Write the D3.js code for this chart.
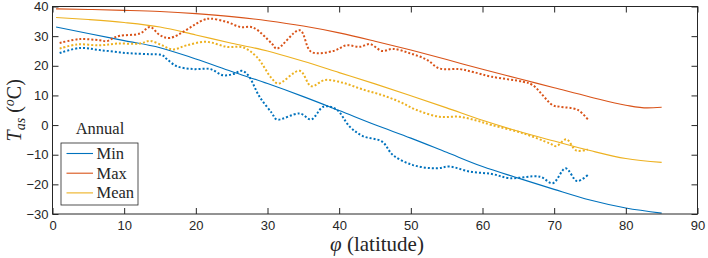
<!DOCTYPE html>
<html>
<head>
<meta charset="utf-8">
<script src="https://cdn.jsdelivr.net/npm/d3@7"></script>
<style>
  body { margin: 0; background: #fff; }
  svg { display: block; }
  .tick text { font-family: "Liberation Sans", Arial, sans-serif; font-size: 13px; fill: #262626; }
  .serif { font-family: "Liberation Serif", "Times New Roman", serif; fill: #262626; }
</style>
</head>
<body>
<div id="chart"></div>
<script>
// ---- Data ----
const xTicks = [0, 10, 20, 30, 40, 50, 60, 70, 80, 90];
const yTicks = [-30, -20, -10, 0, 10, 20, 30, 40];

// smooth curves: [latitude, temperature]
const minSmooth = [[0.5, 33.1], [5, 30.9], [10, 28.5], [15, 26.1], [20, 22.3], [25, 18.1], [30, 14.0], [35, 9.6],
  [40, 4.9], [45, 0.1], [50, -4.4], [55, -9.2], [60, -14.0], [65, -17.9], [70, -21.7], [75, -25.3], [80, -28.0], [85, -29.7]];
const maxSmooth = [[0.5, 39.2], [5, 39.0], [10, 38.7], [15, 38.3], [20, 37.6], [25, 36.6], [30, 35.2], [35, 33.4],
  [40, 31.1], [45, 28.3], [50, 25.3], [55, 22.1], [60, 18.8], [65, 15.7], [70, 12.6], [75, 9.5], [80, 6.7], [83, 5.8], [85, 6.0]];
const meanSmooth = [[0.5, 36.3], [5, 35.6], [10, 34.6], [15, 33.1], [20, 30.4], [25, 27.6], [30, 25.0], [35, 21.5],
  [40, 17.7], [45, 13.9], [50, 9.9], [55, 5.8], [60, 1.6], [65, -2.1], [70, -5.4], [75, -8.6], [80, -11.3], [85, -12.6]];

// observed (dotted) curves
const minObs = [[1, 24.3], [3.8, 26.0], [6.6, 25.3], [10.3, 24.3], [13.6, 23.9], [15.3, 23.6], [15.9, 22.4], [17.3, 19.9],
  [19.6, 18.9], [22, 18.9], [23.8, 16.8], [25.2, 17.2], [26.4, 18.3], [27.3, 16.8], [28.9, 9.5], [30.6, 4.1], [31.3, 1.9],
  [34.5, 3.9], [36.1, 1.9], [37.8, 6.2], [39.6, 5.3], [41.5, -0.6], [43.3, -3.7], [46, -5.6], [47.5, -10.1], [50.3, -13.5],
  [53.6, -14.6], [55.4, -14.0], [58.2, -15.7], [61.3, -16.5], [63.8, -17.9], [68, -17.4], [69.8, -19.6], [71.6, -14.6],
  [73.2, -18.9], [74.7, -16.8]];
const maxObs = [[1, 27.7], [3.8, 29.0], [6.6, 28.6], [7.6, 28.3], [8.5, 29.4], [9.4, 30.1], [12.2, 30.9], [13.6, 33.1],
  [15, 30.3], [16.4, 29.4], [21, 35.4], [22, 35.9], [24.3, 34.8], [26.2, 33.1], [28, 32.9], [30.6, 27.5], [31.3, 25.8],
  [34.5, 32.0], [36.1, 24.7], [39.2, 25.0], [41, 26.9], [42.9, 26.4], [44.3, 27.3], [46, 25.0], [47.5, 25.7], [49.9, 24.2],
  [52.2, 22.1], [54, 19.1], [56.8, 18.9], [58.7, 17.9], [61.3, 16.3], [65.7, 14.6], [67, 13.5], [69.8, 6.7], [70.8, 6.2],
  [73.3, 5.1], [74.7, 1.9]];
const meanObs = [[1, 25.8], [3.4, 27.2], [6.6, 26.9], [9, 27.5], [12.2, 27.5], [13.6, 28.4], [15.3, 26.9], [16.8, 25.5],
  [18.7, 26.9], [21.5, 28.1], [24.3, 26.4], [26.6, 26.2], [28.5, 23.0], [30.6, 15.7], [31.5, 14.0], [34.5, 18.3],
  [36.1, 13.1], [38, 15.2], [40.6, 14.2], [43.3, 12.0], [46, 10.1], [48.5, 7.8], [50.8, 5.1], [54, 2.8], [56.8, 2.8],
  [59.2, 1.5], [61.3, 0.0], [65.7, -2.8], [69.4, -6.2], [70.3, -7.1], [71.7, -4.8], [73.1, -8.6], [74.7, -8.2]];

const seriesNames = ["Min", "Max", "Mean"];
const colors = ["#0072BD", "#D95319", "#EDB120"];

// ---- Layout ----
const W = 708, H = 258;
const margin = { top: 6.5, right: 10.5, bottom: 44, left: 52.5 };
const iw = W - margin.left - margin.right;
const ih = H - margin.top - margin.bottom;

const svg = d3.select("#chart").append("svg").attr("width", W).attr("height", H);
const g = svg.append("g").attr("transform", `translate(${margin.left},${margin.top})`);

const x = d3.scaleLinear().domain([0, 90]).range([0, iw]);
const y = d3.scaleLinear().domain([-30, 40]).range([ih, 0]);

const axisColor = "#262626";
const tickLen = 6;

// ---- Curves ----
const smoothLine = d3.line().x(d => x(d[0])).y(d => y(d[1])).curve(d3.curveMonotoneX);
const obsLine = d3.line().x(d => x(d[0])).y(d => y(d[1])).curve(d3.curveCatmullRom.alpha(0.5));

const plot = g.append("g");
[minSmooth, maxSmooth, meanSmooth].forEach((s, i) => {
  plot.append("path").datum(s).attr("d", smoothLine)
    .attr("fill", "none").attr("stroke", colors[i]).attr("stroke-width", 1.1);
});
[minObs, maxObs, meanObs].forEach((s, i) => {
  plot.append("path").datum(s).attr("d", obsLine)
    .attr("fill", "none").attr("stroke", colors[i]).attr("stroke-width", 2)
    .attr("stroke-dasharray", "2,2");
});

// ---- Axes (box with inward ticks) ----
function styleAxis(sel) {
  sel.select(".domain").remove();
  sel.selectAll("line").attr("stroke", axisColor).attr("stroke-width", 1);
}
g.append("g").attr("transform", `translate(0,${ih})`)
  .call(d3.axisBottom(x).tickValues(xTicks).tickSizeInner(-tickLen).tickSizeOuter(0).tickPadding(7))
  .call(styleAxis);
g.append("g")
  .call(d3.axisTop(x).tickValues(xTicks).tickSizeInner(-tickLen).tickSizeOuter(0).tickFormat(""))
  .call(styleAxis);
g.append("g")
  .call(d3.axisLeft(y).tickValues(yTicks).tickSizeInner(-tickLen).tickSizeOuter(0).tickPadding(4))
  .call(styleAxis);
g.append("g").attr("transform", `translate(${iw},0)`)
  .call(d3.axisRight(y).tickValues(yTicks).tickSizeInner(-tickLen).tickSizeOuter(0).tickFormat(""))
  .call(styleAxis);
g.append("rect").attr("width", iw).attr("height", ih)
  .attr("fill", "none").attr("stroke", axisColor).attr("stroke-width", 1);

// ---- Axis labels ----
const xl = svg.append("text").attr("class", "serif")
  .attr("x", margin.left + iw / 2 + 2).attr("y", 251).attr("text-anchor", "middle").attr("font-size", 21);
xl.append("tspan").attr("font-style", "italic").text("φ");
xl.append("tspan").text(" (latitude)");

const yl = svg.append("text").attr("class", "serif")
  .attr("transform", `translate(21,${margin.top + ih / 2}) rotate(-90)`)
  .attr("text-anchor", "middle").attr("font-size", 20);
yl.append("tspan").attr("font-style", "italic").text("T");
yl.append("tspan").attr("font-style", "italic").attr("font-size", 14).attr("dy", 4).text("as");
yl.append("tspan").attr("dy", -4).text(" (");
yl.append("tspan").attr("font-style", "italic").attr("font-size", 14).attr("dy", -7).text("o");
yl.append("tspan").attr("dy", 7).text("C)");

// ---- Legend ----
svg.append("text").attr("class", "serif")
  .attr("x", 100).attr("y", 134).attr("text-anchor", "middle").attr("font-size", 16.5).text("Annual");
const lg = svg.append("g").attr("transform", "translate(61,143)");
lg.append("rect").attr("width", 77).attr("height", 62)
  .attr("fill", "#fff").attr("stroke", axisColor).attr("stroke-width", 0.8);
seriesNames.forEach((name, i) => {
  const yy = 10.5 + i * 19.7;
  lg.append("line").attr("x1", 5.5).attr("x2", 32).attr("y1", yy).attr("y2", yy)
    .attr("stroke", colors[i]).attr("stroke-width", 1.1);
  lg.append("text").attr("class", "serif")
    .attr("x", 35.5).attr("y", yy + 5.5).attr("font-size", 16.5).text(name);
});
</script>
</body>
</html>
